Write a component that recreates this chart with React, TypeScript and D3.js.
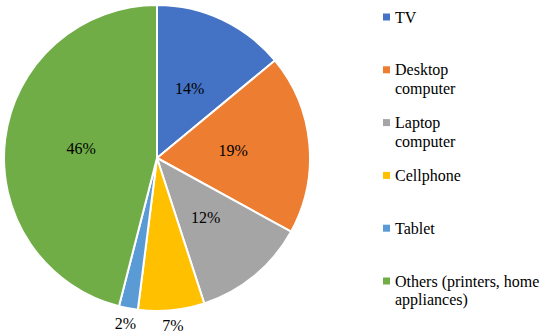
import React, { useEffect, useRef } from "react";
import * as d3 from "d3";

const categories = ["TV", "Desktop computer", "Laptop computer", "Cellphone", "Tablet", "Others (printers, home appliances)"];
const legendLines = [["TV"], ["Desktop", "computer"], ["Laptop", "computer"], ["Cellphone"], ["Tablet"], ["Others (printers, home", "appliances)"]];
const shares = [14, 19, 12, 7, 2, 46];
const colors = ["#4472C4", "#ED7D31", "#A5A5A5", "#FFC000", "#5B9BD5", "#70AD47"];
// small slices get their label outside the pie
const outsideLabel = [false, false, false, true, true, false];

const App = () => {
    const svgRef = useRef<SVGSVGElement>(null);

    useEffect(() => {
        const width = 550;
        const height = 336;
        const cx = 157;
        const cy = 158;
        const radius = 153;
        const font = "'Liberation Serif', 'Times New Roman', serif";

        const svg = d3.select(svgRef.current)
            .attr("width", width)
            .attr("height", height)
            .style("position", "absolute")
            .style("left", "0px")
            .style("top", "0px")
            .style("background", "#fff");

        svg.selectAll("*").remove();

        const data = categories.map((c, i) => ({ name: c, value: shares[i], i }));

        const pie = d3.pie<any>()
            .value(d => d.value)
            .sort(null);

        const arcs = pie(data);

        const arc = d3.arc<any>()
            .innerRadius(0)
            .outerRadius(radius);

        const g = svg.append("g")
            .attr("transform", `translate(${cx}, ${cy})`);

        g.selectAll(".slice")
            .data(arcs)
            .enter()
            .append("path")
            .attr("d", arc)
            .attr("fill", d => colors[d.data.i])
            .attr("stroke", "#fff")
            .attr("stroke-width", 2)
            .attr("stroke-linejoin", "round");

        const outerArc = d3.arc<any>()
            .innerRadius(radius + 15)
            .outerRadius(radius + 15);

        g.selectAll(".label")
            .data(arcs)
            .enter()
            .append("text")
            .attr("transform", d => {
                const [x, y] = outsideLabel[d.data.i] ? outerArc.centroid(d) : arc.centroid(d);
                return `translate(${x}, ${y})`;
            })
            .attr("text-anchor", "middle")
            .attr("dy", "0.35em")
            .style("font-family", font)
            .style("font-size", "16px")
            .attr("fill", "#000")
            .text(d => `${d.data.value}%`);

        // legend
        const legendY = d3.scalePoint<number>()
            .domain(d3.range(categories.length))
            .range([17, 281]);

        const legend = svg.append("g");

        const items = legend.selectAll(".item")
            .data(data)
            .enter()
            .append("g")
            .attr("transform", d => `translate(383, ${legendY(d.i)})`);

        items.append("rect")
            .attr("x", 0)
            .attr("y", -3.5)
            .attr("width", 7)
            .attr("height", 7)
            .attr("fill", d => colors[d.i]);

        // one text per line so wrapped lines stay separate
        items.selectAll(".line")
            .data(d => legendLines[d.i])
            .enter()
            .append("text")
            .attr("x", 12)
            .attr("y", (_, j) => j * 18.5)
            .attr("dy", "0.35em")
            .style("font-family", font)
            .style("font-size", "16px")
            .attr("fill", "#000")
            .text(t => t);
    }, []);

    return <svg ref={svgRef}></svg>;
};

export default App;
